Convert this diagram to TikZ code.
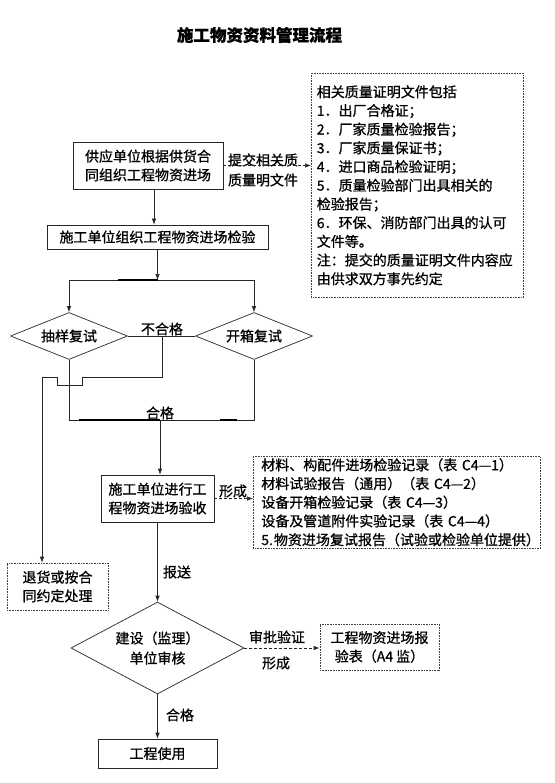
\documentclass[tikz,border=0pt]{standalone}
\usepackage{fontspec}
\setmainfont{Noto Sans CJK SC}[FakeBold=0.8]
\newfontfamily\bodyf{Noto Sans CJK SC}[FakeBold=0.8]
\usetikzlibrary{arrows.meta,shapes.geometric,calc}
\begin{document}
\begin{tikzpicture}[x=1pt,y=-1pt,
  every node/.style={font=\bodyf\fontsize{14}{18.7}\selectfont, inner sep=0pt},
  sbox/.style={draw=black!85, line width=0.7pt, align=center},
  dbox/.style={draw=black!75, line width=0.6pt, dash pattern=on 0.7pt off 0.9pt, align=center},
  dlist/.style={draw=black!75, line width=0.6pt, dash pattern=on 0.7pt off 0.9pt, align=left, anchor=north west},
  dia/.style={draw=black!85, line width=0.7pt, shape=diamond, aspect=2.5, align=center},
  ln/.style={draw=black!85, line width=0.7pt},
  arr/.style={ln, -{Latex[length=6pt,width=4.5pt]}},
  darr/.style={ln, dash pattern=on 3pt off 2pt, -{Latex[length=6pt,width=4.5pt]}},
  lbl/.style={font=\bodyf\fontsize{14}{20}\selectfont, align=center}
]
\useasboundingbox[fill=white] (0,0) rectangle (554,783);

% title
\node[font=\bodyf\fontsize{16.5}{20}\selectfont\bfseries] (title) at (259.5,35) {施工物资资料管理流程};

% boxes
\node[sbox, minimum width=150pt, minimum height=47pt] (b1) at (148,165.5) {供应单位根据供货合\\同组织工程物资进场};
\node[sbox, minimum width=221pt, minimum height=24pt] (b2) at (157.5,237) {施工单位组织工程物资进场检验};
\node[dlist, minimum height=224pt, text width=201pt, inner xsep=5.5pt] (docs1) at (311,73)
  {相关质量证明文件包括\\
   1．出厂合格证；\\
   2．厂家质量检验报告；\\
   3．厂家质量保证书；\\
   4．进口商品检验证明；\\
   5．质量检验部门出具相关的\\
   检验报告；\\
   6．环保、消防部门出具的认可\\
   文件等。\\
   注：提交的质量证明文件内容应\\
   由供求双方事先约定};
\node[lbl] (lab1) at (263,170) {提交相关质\\质量明文件};

\node[dia, minimum width=117pt, minimum height=47pt] (d1) at (69,336) {抽样复试};
\node[dia, minimum width=117pt, minimum height=47pt] (d2) at (254,336) {开箱复试};

\node[sbox, minimum width=113pt, minimum height=47pt] (b3) at (157.5,498.5) {施工单位进行工\\程物资进场验收};
\node[dlist, minimum height=92pt, text width=271pt, inner xsep=8pt] (docs2) at (253,456)
  {材料、构配件进场检验记录（表 C4—1）\\
   材料试验报告（通用）（表 C4—2）\\
   设备开箱检验记录（表 C4—3）\\
   设备及管道附件实验记录（表 C4—4）\\
   5.\hspace{1pt}物资进场复试报告（试验或检验单位提供）};

\node[dbox, minimum width=101pt, minimum height=47pt] (th) at (57.5,586.5) {退货或按合\\同约定处理};
\node[dia, aspect=1.88, minimum width=173pt, minimum height=92pt, font=\bodyf\fontsize{14}{20}\selectfont] (d3) at (157.5,648) {建设（监理）\\单位审核};
\node[dbox, minimum width=119pt, minimum height=46pt] (a4) at (379.5,647) {工程物资进场报\\验表（A4 监）};
\node[sbox, minimum width=119pt, minimum height=29pt] (use) at (157.5,753.5) {工程使用};

% labels
\node[lbl] (l2) at (162,329) {不合格};
\node[lbl] (l3) at (160,413) {合格};
\node[lbl] (l4) at (233,491) {形成};
\node[lbl] (l5) at (177,572) {报送};
\node[lbl] (l6) at (277,637) {审批验证};
\node[lbl] (l7) at (276,663) {形成};
\node[lbl] (l8) at (180,715) {合格};

% coordinates
\coordinate (J1) at (157.5,280);
\coordinate (J2) at (160,420);
\coordinate (F1) at (162,336);
\coordinate (K) at (42,377);

% connectors
\draw[arr] ([xshift=6pt]b1.south) -- ([xshift=6pt]b1.south |- b2.north);
\draw[darr] (b1.east) -- (b1.east -| docs1.west);
\draw[arr] (b2.south) -- (J1);
\draw[ln] (d1.north |- J1) -- (d2.north |- J1);
\draw[line width=1.4pt] (118,280) -- (157.5,280);
\draw[arr] (d1.north |- J1) -- (d1.north);
\draw[arr] (d2.north |- J1) -- (d2.north);
\draw[ln] (d1.east) -- (d2.west);
\draw[arr] (F1) -- (162,377) -- (82,377) -- (82,385) -- (57,385) -- (57,377) -- (K) -- (K |- th.north);
\draw[ln] (d1.south) -- (d1.south |- J2) -- (d2.south |- J2) -- (d2.south);
\draw[line width=1.4pt] (79,420) -- (160,420);
\draw[line width=1.4pt] (220,420) -- (237,420);
\draw[arr] (J2) -- (J2 |- b3.north);
\draw[darr] (b3.east) -- (b3.east -| docs2.west);
\draw[arr] (b3.south) -- (d3.north);
\draw[darr, line width=1pt] (d3.east) -- (d3.east -| a4.west);
\draw[arr] (d3.south) -- (use.north);
\end{tikzpicture}
\end{document}
